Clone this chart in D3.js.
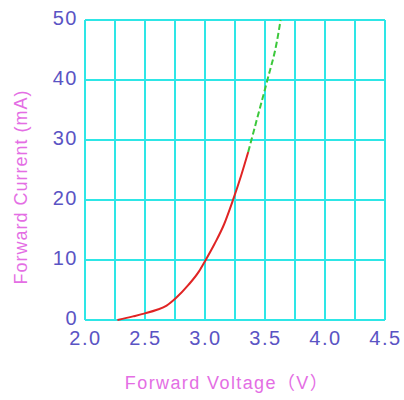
<!DOCTYPE html>
<html>
<head>
<meta charset="utf-8">
<script src="https://cdn.jsdelivr.net/npm/d3@7"></script>
<style>
    body { margin: 0; background: #fff; }
    svg { display: block; }
</style>
</head>
<body>
<div id="chart"></div>
<script>
/*
 * Kennlinie einer LED: Strom ueber Spannung
 * roter Teil gemessen, gruener Teil gestrichelt weitergefuehrt
 */
var xTicks = [2.0, 2.5, 3.0, 3.5, 4.0, 4.5];
var xGrid = [2.0, 2.25, 2.5, 2.75, 3.0, 3.25, 3.5, 3.75, 4.0, 4.25, 4.5];
var yTicks = [0, 10, 20, 30, 40, 50];

var measuredV = [2.27, 2.4, 2.5, 2.6, 2.68, 2.76, 2.86, 2.95, 3.0, 3.08, 3.16, 3.23, 3.3, 3.36];
var measuredI = [0, 0.6, 1.1, 1.7, 2.4, 3.7, 5.8, 8.1, 9.8, 12.7, 16.0, 19.8, 24.0, 28.0];
var extraV = [3.36, 3.44, 3.52, 3.6, 3.63];
var extraI = [28.0, 34.0, 40.0, 46.5, 50.0];

var xLabel = "Forward Voltage（V）";
var yLabel = "Forward Current (mA)";

var width = 404, height = 400;
var margin = {top: 20, right: 19, bottom: 80, left: 85};
var w = width - margin.left - margin.right;
var h = height - margin.top - margin.bottom;

var svg = d3.select("#chart").append("svg")
        .attr("width", width)
        .attr("height", height);
var g = svg.append("g")
        .attr("transform", "translate(" + margin.left + "," + margin.top + ")");

var x = d3.scaleLinear().domain([2.0, 4.5]).range([0, w]);
var y = d3.scaleLinear().domain([0, 50]).range([h, 0]);

var gridColor = "#2ee6e6";
var tickColor = "#5a54c4";
var titleColor = "#e46ee4";
var font = "'Liberation Sans', Arial, 'Noto Sans CJK KR', sans-serif";

// Gitter senkrecht und waagrecht
g.append("g").selectAll("line")
        .data(xGrid)
        .enter().append("line")
        .attr("x1", function (d) { return x(d); })
        .attr("x2", function (d) { return x(d); })
        .attr("y1", 0)
        .attr("y2", h)
        .attr("stroke", gridColor)
        .attr("stroke-width", 2);
g.append("g").selectAll("line")
        .data(yTicks)
        .enter().append("line")
        .attr("x1", 0)
        .attr("x2", w)
        .attr("y1", function (d) { return y(d); })
        .attr("y2", function (d) { return y(d); })
        .attr("stroke", gridColor)
        .attr("stroke-width", 2);

// Achsenbeschriftung ueber d3 axis, Linien ausgeblendet
var xAxis = g.append("g")
        .attr("transform", "translate(0," + h + ")")
        .call(d3.axisBottom(x).tickValues(xTicks).tickSize(0).tickPadding(11)
                .tickFormat(d3.format(".1f")));
var yAxis = g.append("g")
        .call(d3.axisLeft(y).tickValues(yTicks).tickSize(0).tickPadding(7)
                .tickFormat(d3.format("d")));
[xAxis, yAxis].forEach(function (a) {
    a.select(".domain").remove();
    a.selectAll("text")
            .attr("fill", tickColor)
            .style("font-family", font)
            .style("font-size", "20px")
            .style("letter-spacing", "1.5px");
});
yAxis.selectAll("text").attr("dy", "0.22em");

// Kurve
var line = d3.line()
        .x(function (d) { return x(d[0]); })
        .y(function (d) { return y(d[1]); })
        .curve(d3.curveMonotoneX);

g.append("path")
        .datum(d3.zip(measuredV, measuredI))
        .attr("d", line)
        .attr("fill", "none")
        .attr("stroke", "#e02424")
        .attr("stroke-width", 2);
g.append("path")
        .datum(d3.zip(extraV, extraI))
        .attr("d", line)
        .attr("fill", "none")
        .attr("stroke", "#3cc83c")
        .attr("stroke-width", 2)
        .attr("stroke-dasharray", "6,3");

// Titel
svg.append("text")
        .attr("x", margin.left + x(3.0) + 22)
        .attr("y", 389)
        .attr("text-anchor", "middle")
        .attr("fill", titleColor)
        .style("font-family", font)
        .style("font-size", "18px")
        .style("letter-spacing", "1.4px")
        .text(xLabel);
svg.append("text")
        .attr("transform", "translate(27,187) rotate(-90)")
        .attr("text-anchor", "middle")
        .attr("fill", titleColor)
        .style("font-family", font)
        .style("font-size", "18px")
        .style("letter-spacing", "1px")
        .text(yLabel);
</script>
</body>
</html>
